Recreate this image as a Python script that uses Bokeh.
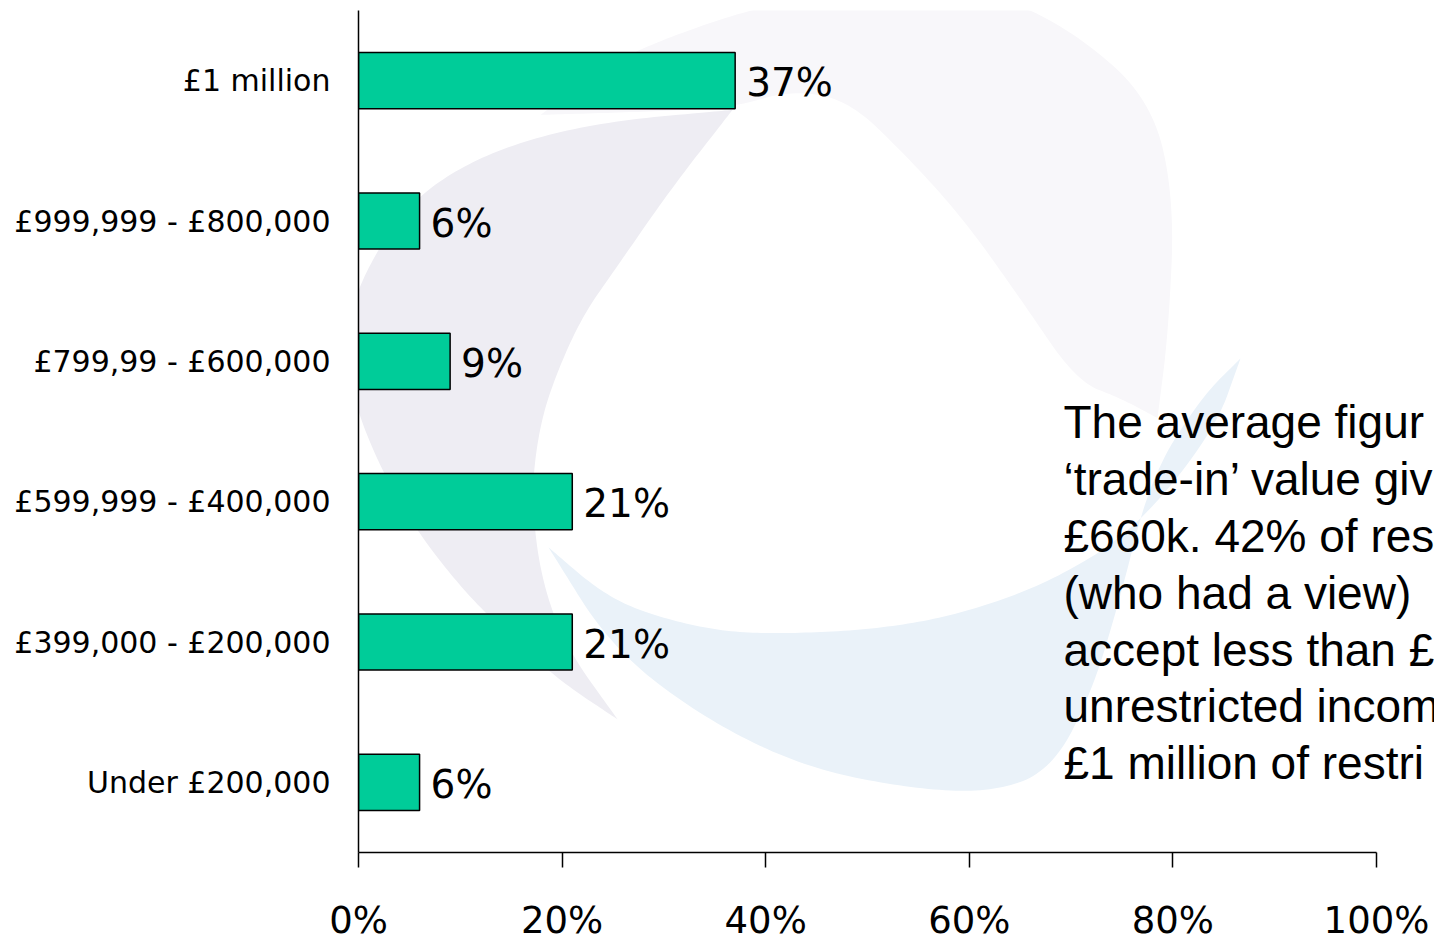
import numpy as np
from bokeh.plotting import figure
from bokeh.models import Range1d, FixedTicker, Label, ColumnDataSource
from bokeh.core.properties import value
from bokeh.embed import file_html
from bokeh.resources import INLINE

# ---- data ----
categories = ["£1 million", "£999,999 - £800,000", "£799,99 - £600,000",
              "£599,999 - £400,000", "£399,000 - £200,000", "Under £200,000"]
shares = [37, 6, 9, 21, 21, 6]
value_labels = ["37%", "6%", "9%", "21%", "21%", "6%"]
x_ticks = [0, 20, 40, 60, 80, 100]
x_tick_labels = ["0%", "20%", "40%", "60%", "80%", "100%"]
note_lines = ["The average figur", "\u2018trade-in\u2019 value giv", "£660k. 42% of res",
              "(who had a view)", "accept less than £", "unrestricted incom",
              "£1 million of restri"]

BAR_COLOR = "#00CC99"
n = len(categories)
ypos = [n - 0.5 - i for i in range(n)]  # first category at top

W, H = 1434, 944
FRAME_L, FRAME_T, FRAME_B = 358, 10, 857
AXIS_END_PX = 1376                       # pixel where 100% sits
x_end = 100 * (W - FRAME_L) / (AXIS_END_PX - FRAME_L)

p = figure(width=W, height=H, output_backend="svg", toolbar_location=None,
           x_range=Range1d(0, x_end), y_range=Range1d(0, n),
           min_border_left=FRAME_L, min_border_right=0, min_border_top=FRAME_T,
           min_border_bottom=H - FRAME_B)
p.outline_line_color = None
p.xgrid.grid_line_color = None
p.ygrid.grid_line_color = None
p.background_fill_color = "white"

# ---- decorative watermark (outlines given in page pixels, mapped to data space) ----
PX0, PX1, PY0, PY1 = FRAME_L, AXIS_END_PX, FRAME_B, FRAME_T


def to_data(pts):
    pts = np.asarray(pts, dtype=float)
    x = (pts[:, 0] - PX0) / (PX1 - PX0) * 100
    y = (PY0 - pts[:, 1]) / (PY0 - PY1) * n
    return np.column_stack([x, y])


def chaikin(pts, k=4):
    pts = np.asarray(pts, dtype=float)
    for _ in range(k):
        q = 0.75 * pts[:-1] + 0.25 * pts[1:]
        r = 0.25 * pts[:-1] + 0.75 * pts[1:]
        new = np.empty((2 * len(q), 2))
        new[0::2] = q
        new[1::2] = r
        pts = np.vstack([pts[:1], new, pts[-1:]])
    return pts


def shape(outer, inner):
    pts = to_data(np.vstack([chaikin(outer), chaikin(inner)]))
    return list(pts[:, 0]), list(pts[:, 1])


faint_outer = [(540, 115), (600, 70), (651, 43), (760, 5), (870, -12), (1000, -5),
               (1076, 33), (1151, 100), (1174, 200), (1168, 333), (1157, 420)]
faint_inner = [(1157, 420), (1120, 400), (1076, 383), (1020, 300), (961, 217),
               (900, 150), (847, 100), (790, 90), (732, 108), (640, 112), (540, 115)]
grey_outer = [(732, 110), (600, 122), (502, 147), (430, 185), (387, 233), (352, 300),
              (344, 360), (359, 420), (385, 480), (416, 533), (460, 590), (502, 633),
              (560, 685), (617, 723)]
grey_inner = [(617, 723), (565, 650), (540, 580), (531, 500), (537, 440), (550, 390),
              (580, 320), (617, 267), (670, 190), (732, 110)]
blue_outer = [(548, 550), (610, 650), (700, 720), (800, 770), (904, 792), (990, 797),
              (1050, 775), (1090, 700), (1120, 600), (1150, 480), (1200, 400), (1240, 360)]
blue_inner = [(1240, 360), (1214, 433), (1134, 533), (1050, 585), (961, 617), (880, 632),
              (789, 637), (720, 635), (646, 617), (600, 595), (548, 550)]

for (o, i), col in [((faint_outer, faint_inner), "#F8F7FA"),
                    ((grey_outer, grey_inner), "#EEEDF3"),
                    ((blue_outer, blue_inner), "#EAF2F9")]:
    xs, ys = shape(o, i)
    p.patch(xs, ys, fill_color=col, line_color=None)

# ---- bars and value labels ----
src = ColumnDataSource(dict(y=ypos, share=shares, lab=value_labels))
p.hbar(y="y", right="share", left=0, height=0.4, source=src,
       fill_color=BAR_COLOR, line_color="black", line_width=1.5)
p.text(x="share", y="y", text="lab", source=src, x_offset=11, y_offset=2,
       text_baseline="middle", text_align="left",
       text_font=value("DejaVu Sans"), text_font_size="39px", text_color="black")

# ---- axes ----
p.yaxis.ticker = FixedTicker(ticks=ypos)
p.yaxis.major_label_overrides = {y: c for y, c in zip(ypos, categories)}
p.yaxis.axis_line_color = "black"
p.yaxis.axis_line_width = 1.5
p.yaxis.major_tick_line_color = None
p.yaxis.minor_tick_line_color = None
p.yaxis.major_tick_out = 0
p.yaxis.major_tick_in = 0
p.yaxis.major_label_standoff = 28
p.yaxis.major_label_text_font = "DejaVu Sans"
p.yaxis.major_label_text_font_size = "30px"
p.yaxis.major_label_text_color = "black"

p.xaxis.ticker = FixedTicker(ticks=x_ticks)
p.xaxis.bounds = (0, 100)
p.xaxis.major_label_overrides = {t: l for t, l in zip(x_ticks, x_tick_labels)}
p.xaxis.axis_line_color = "black"
p.xaxis.axis_line_width = 1.5
p.xaxis.major_tick_line_color = "black"
p.xaxis.major_tick_line_width = 1.5
p.xaxis.major_tick_out = 15
p.xaxis.major_tick_in = 0
p.xaxis.minor_tick_line_color = None
p.xaxis.major_label_standoff = 31
p.xaxis.major_label_text_font = "DejaVu Sans"
p.xaxis.major_label_text_font_size = "37px"
p.xaxis.major_label_text_color = "black"

# ---- side note ----
note_x = (1063 - PX0) / (PX1 - PX0) * 100
for k, line in enumerate(note_lines):
    base_px = 424 + 57.2 * k
    p.add_layout(Label(x=note_x, y=(PY0 - base_px) / (PY0 - PY1) * n, text=line,
                       text_font="Liberation Sans", text_font_size="46px",
                       text_color="black", text_baseline="alphabetic", text_align="left"))

open("out.html", "w").write(file_html(p, INLINE))
